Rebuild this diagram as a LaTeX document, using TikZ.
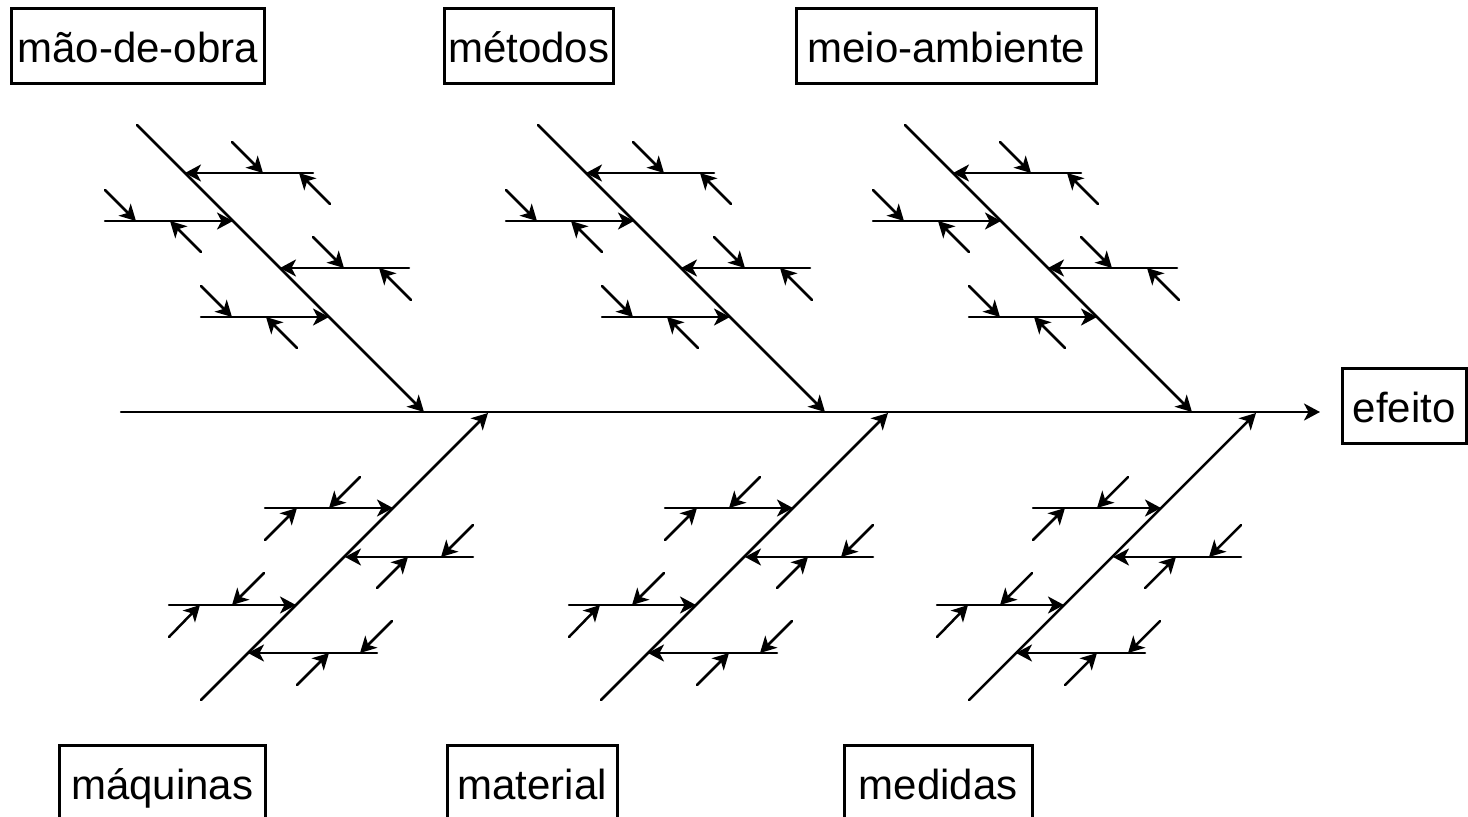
\documentclass[tikz,border=0pt]{standalone}
\usepackage{fontspec}
\setmainfont{Liberation Sans}
\usetikzlibrary{arrows.meta}
\begin{document}
\begin{tikzpicture}[x=1pt,y=-1pt,
  line width=2.5pt, line cap=round,
  tip/.style={-{Stealth[length=16pt,width=17pt,inset=4.5pt]}},
  catbox/.style={draw, line width=2.5pt, line cap=butt, anchor=north west,
    inner xsep=0pt, inner ysep=0pt, text height=54pt, text depth=21pt,
    align=center, font=\fontsize{42}{50}\selectfont}]
\useasboundingbox (0,0) rectangle (1468,817);

% category labels
\node[catbox, minimum width=253pt] (maoobra)  at (10,7)    {mão-de-obra};
\node[catbox, minimum width=169pt] (metodos)  at (443,7)   {métodos};
\node[catbox, minimum width=300pt] (meioamb)  at (795,7)   {meio-ambiente};
\node[catbox, minimum width=206pt] (maquinas) at (58,744)  {máquinas};
\node[catbox, minimum width=170pt] (material) at (446,744) {material};
\node[catbox, minimum width=188pt] (medidas)  at (843,744) {medidas};
\node[catbox, minimum width=124pt] (efeito)   at (1341,367) {efeito};

% main spine
\coordinate (tail) at (121,412);
\coordinate (head) at (1320,412);
\draw[tip] (tail) -- (head);

% upper bones with their causes
\foreach \dx in {0,401,768} {
  \begin{scope}[xshift=\dx pt]
    \draw[tip] (137,125) -- (424,412);
    \draw[tip] (313,173) -- (185,173);
    \draw[tip] (232,142) -- (263,173);
    \draw[tip] (330,204) -- (299,173);
    \draw[tip] (105,221) -- (233,221);
    \draw[tip] (105,190) -- (136,221);
    \draw[tip] (201,252) -- (170,221);
    \draw[tip] (409,268) -- (280,268);
    \draw[tip] (313,237) -- (344,268);
    \draw[tip] (411,300) -- (379,268);
    \draw[tip] (201,317) -- (329,317);
    \draw[tip] (201,286) -- (232,317);
    \draw[tip] (297,348) -- (266,317);
  \end{scope}
}

% lower bones with their causes
\foreach \dx in {0,400,768} {
  \begin{scope}[xshift=\dx pt]
    \draw[tip] (201,700) -- (488,413);
    \draw[tip] (265,508) -- (393,508);
    \draw[tip] (360,477) -- (329,508);
    \draw[tip] (265,540) -- (297,508);
    \draw[tip] (473,557) -- (345,557);
    \draw[tip] (473,525) -- (441,557);
    \draw[tip] (377,588) -- (408,557);
    \draw[tip] (169,605) -- (296,605);
    \draw[tip] (264,573) -- (232,605);
    \draw[tip] (169,637) -- (200,605);
    \draw[tip] (377,653) -- (248,653);
    \draw[tip] (392,621) -- (360,653);
    \draw[tip] (297,685) -- (329,653);
  \end{scope}
}
\end{tikzpicture}
\end{document}
